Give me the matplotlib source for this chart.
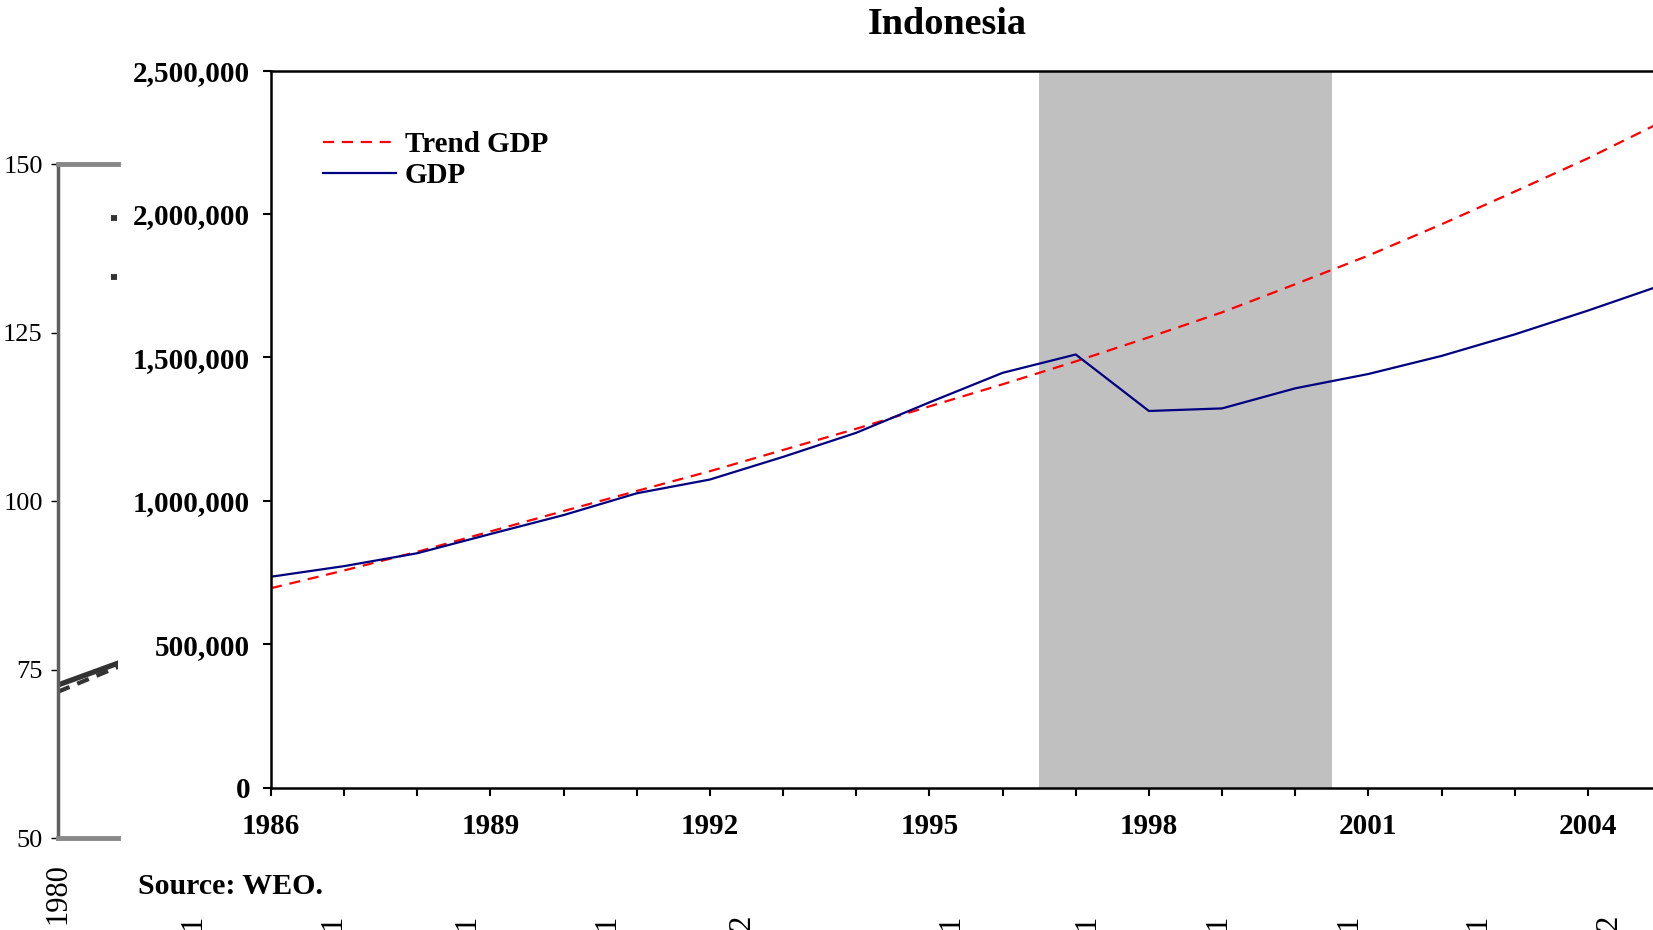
import matplotlib
matplotlib.use("Agg")
import matplotlib.pyplot as plt
from matplotlib.lines import Line2D
from matplotlib.ticker import FuncFormatter

W, H = 1653, 930

# Indonesia: real GDP and its trend
years = list(range(1986, 2006))
gdp = [735000, 772000, 817000, 884000, 950000, 1026000, 1074000, 1153000,
       1237000, 1343000, 1446000, 1510000, 1313000, 1322000, 1392000,
       1442000, 1505000, 1580000, 1663000, 1751000]
trend_gdp = [695000, 757000, 822000, 893000, 964000, 1034000, 1103000,
             1177000, 1251000, 1329000, 1406000, 1486000, 1570000, 1657000,
             1755000, 1855000, 1964000, 2078000, 2194000, 2320000]
crisis = (1996.5, 2000.5)
label_years = list(range(1986, 2006, 3))

# index chart underneath (only its left edge shows)
idx_years = [1980, 1981]
idx_solid = [72.7, 76.3]
idx_dashed = [71.7, 75.8]
idx_ticks = [50, 75, 100, 125, 150]
idx_xlabels = ["1", "1", "1", "1", "2", "1", "1", "1", "1", "1", "2"]
idx_xlabel_px = [193, 333, 467, 607, 742, 951, 1087, 1218, 1349, 1478, 1609]

serif = "Liberation Serif"
fig = plt.figure(figsize=(W / 100, H / 100), dpi=100)
fig.patch.set_facecolor("white")

# --- background index chart, clipped at its left part
bg = fig.add_axes([58 / W, (H - 838) / H, 60 / W, (838 - 164) / H])
bg.plot(idx_years, idx_dashed, color="#333333", lw=3.0, dashes=(3, 2))
bg.plot(idx_years, idx_solid, color="#333333", lw=3.8, solid_capstyle="butt")
bg.set_xlim(1980, 1980.9)
bg.set_ylim(50, 150)
bg.set_yticks(idx_ticks)
bg.set_yticklabels([str(t) for t in idx_ticks], fontfamily=serif, fontsize=19)
bg.set_xticks([1980])
bg.set_xticklabels(["1980"], rotation=90, fontfamily=serif, fontsize=22)
bg.tick_params(axis="y", length=5, width=1, pad=6, direction="out")
bg.tick_params(axis="x", length=0, pad=18)
bg.spines["right"].set_visible(False)
bg.spines["left"].set_color("#606060")
bg.spines["left"].set_linewidth(2.5)
for side in ("top", "bottom"):
    bg.spines[side].set_color("#888888")
    bg.spines[side].set_linewidth(3.5)

for lab, px in zip(idx_xlabels, idx_xlabel_px):
    fig.text(px / W, 1 - 915 / H, lab, rotation=90, ha="center", va="top",
             fontfamily=serif, fontsize=22)

# stubs of the index chart legend
for py in (218, 277):
    fig.add_artist(Line2D([111 / W, 117 / W], [1 - py / H, 1 - py / H],
                          transform=fig.transFigure, color="#333333", lw=4.2,
                          solid_capstyle="butt"))

# --- main chart
x_right = 1661
ax = fig.add_axes([271 / W, (H - 787.5) / H, (x_right - 271) / W, (787.5 - 70.6) / H])
ax.axvspan(*crisis, color="#C0C0C0", lw=0, zorder=0)
ax.plot(years, trend_gdp, color="#FF0000", lw=1.6, dashes=(5, 3.5), label="Trend GDP")
ax.plot(years, gdp, color="#000080", lw=1.6, label="GDP")

ax.set_xlim(1986, 2005)
ax.set_ylim(0, 2500000)
ax.set_xticks(label_years)
ax.set_xticks(years, minor=True)
ax.set_yticks(range(0, 2500001, 500000))
ax.yaxis.set_major_formatter(FuncFormatter(lambda v, p: f"{int(v):,}"))
ax.tick_params(axis="both", which="both", direction="out", length=6, width=1.5,
               color="black")
ax.tick_params(axis="x", pad=12)
ax.tick_params(axis="y", pad=9)
for lab in ax.get_xticklabels() + ax.get_yticklabels():
    lab.set_fontfamily(serif)
    lab.set_fontweight("bold")
    lab.set_fontsize(21)
ax.spines["right"].set_visible(False)
for side in ("top", "left", "bottom"):
    ax.spines[side].set_linewidth(1.8)

leg = ax.legend(loc="upper left", bbox_to_anchor=(323 / W, 1 - 131 / H),
                bbox_transform=fig.transFigure, frameon=False, borderpad=0,
                borderaxespad=0, handlelength=2.5, handletextpad=0.3,
                labelspacing=0.15, prop={"family": serif, "weight": "bold", "size": 21})

fig.text(947 / W, 1 - 25 / H, "Indonesia", ha="center", va="center",
         fontfamily=serif, fontweight="bold", fontsize=27.5)
fig.text(138 / W, 1 - 886 / H, "Source: WEO.", ha="left", va="center",
         fontfamily=serif, fontweight="bold", fontsize=21.5)

fig.savefig("out.png", dpi=100)
